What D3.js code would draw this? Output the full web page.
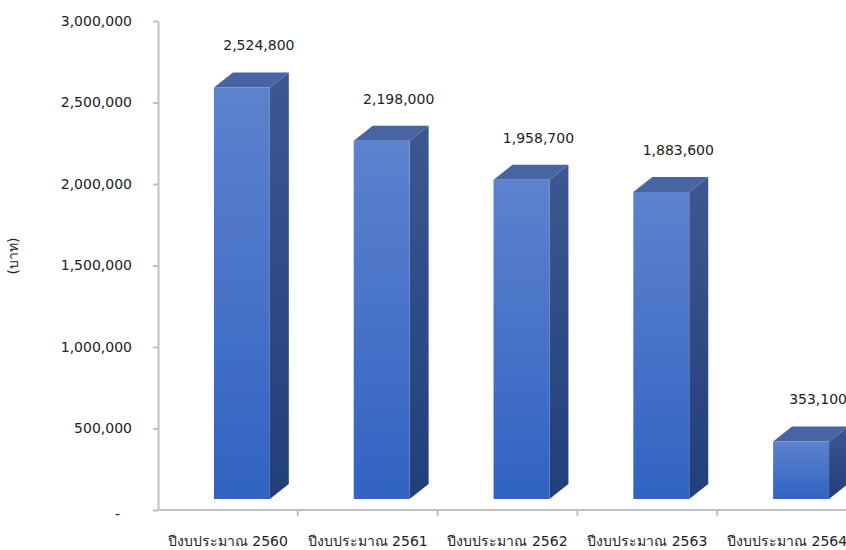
<!DOCTYPE html>
<html><head><meta charset="utf-8">
<script src="https://cdn.jsdelivr.net/npm/d3@7"></script>
<style>html,body{margin:0;padding:0;background:#fff;overflow:hidden}</style>
</head><body>
<svg id="c" width="846" height="550"></svg>
<script>
const categories = ["ปีงบประมาณ 2560","ปีงบประมาณ 2561","ปีงบประมาณ 2562","ปีงบประมาณ 2563","ปีงบประมาณ 2564"];
const values = [2524800, 2198000, 1958700, 1883600, 353100];
const yTicks = [0, 500000, 1000000, 1500000, 2000000, 2500000, 3000000];
const yTitle = "(บาท)";

const FONT = "Tahoma, 'DejaVu Sans', 'Noto Sans', sans-serif";
const svg = d3.select("#c");
const x0 = 158, y0 = 510, bandW = 139.8;
const x = d3.scaleBand().domain(categories).range([x0, x0 + bandW * categories.length]).padding(0);
const y = d3.scaleLinear().domain([0, 3000000]).range([y0, 21]);
const dx = 19, dy = 15, lift = 11;

const defs = svg.append("defs");
function grad(id, c1, c2){
  const g = defs.append("linearGradient").attr("id", id).attr("x1",0).attr("y1",0).attr("x2",0).attr("y2",1);
  g.append("stop").attr("offset","0%").attr("stop-color",c1);
  g.append("stop").attr("offset","100%").attr("stop-color",c2);
}
grad("front", "#5d82ce", "#3163c2");
grad("side", "#3d5791", "#213f7b");

// y axis
const yAxis = d3.axisLeft(y).tickValues(yTicks).tickSizeInner(5).tickSizeOuter(0).tickPadding(21)
  .tickFormat(d => d === 0 ? "-" : d3.format(",")(d));
const ga = svg.append("g").attr("transform", `translate(${x0},0)`).call(yAxis);
ga.select(".domain").attr("stroke", "#bfbfbf").attr("stroke-width", 2);
ga.selectAll(".tick line").attr("stroke", "#bfbfbf").attr("stroke-width", 2);
ga.selectAll(".tick text").attr("font-family", FONT).attr("font-size", 14).attr("fill", "#222");
ga.selectAll(".tick text").filter(d => d === 0).attr("dx", -12).attr("dy", "0.6em");

// x axis
svg.append("line").attr("x1", x0).attr("x2", 846).attr("y1", y0).attr("y2", y0)
  .attr("stroke", "#bfbfbf").attr("stroke-width", 2);
const xAxis = d3.axisBottom(x).tickSize(0).tickPadding(26);
const gx = svg.append("g").attr("transform", `translate(0,${y0})`).call(xAxis);
gx.select(".domain").remove();
gx.selectAll(".tick text").attr("font-family", FONT).attr("font-size", 14).attr("fill", "#222");
svg.selectAll(".cattick").data(categories.slice(1).concat(["end"])).enter().append("line")
  .attr("x1", (d,i) => x0 + bandW * (i + 1)).attr("x2", (d,i) => x0 + bandW * (i + 1))
  .attr("y1", y0).attr("y2", y0 + 6).attr("stroke", "#bfbfbf").attr("stroke-width", 2);

// y title
svg.append("text").attr("transform", "translate(18,256) rotate(-90)").attr("text-anchor", "middle")
  .attr("font-family", FONT).attr("font-size", 14).attr("fill", "#222").text(yTitle);

// bars
const bw = x.bandwidth() * 0.4;
const g = svg.append("g");
categories.forEach((c, i) => {
  const v = values[i];
  const L = x(c) + x.bandwidth() * 0.4, R = L + bw;
  const T = y(v) - lift, B = y(0) - lift;
  g.append("path").attr("d", `M${R},${T}L${R+dx},${T-dy}L${R+dx},${B-dy}L${R},${B}Z`).attr("fill", "url(#side)");
  g.append("path").attr("d", `M${L},${T}L${L+dx},${T-dy}L${R+dx},${T-dy}L${R},${T}Z`).attr("fill", "#4864a3");
  g.append("rect").attr("x", L).attr("y", T).attr("width", bw).attr("height", B - T).attr("fill", "url(#front)");
  g.append("text").attr("x", L + bw / 2 + dx - 2).attr("y", T - dy - 22)
    .attr("text-anchor", "middle").attr("font-family", FONT).attr("font-size", 14).attr("fill", "#222")
    .text(d3.format(",")(v));
});
</script>
</body></html>
